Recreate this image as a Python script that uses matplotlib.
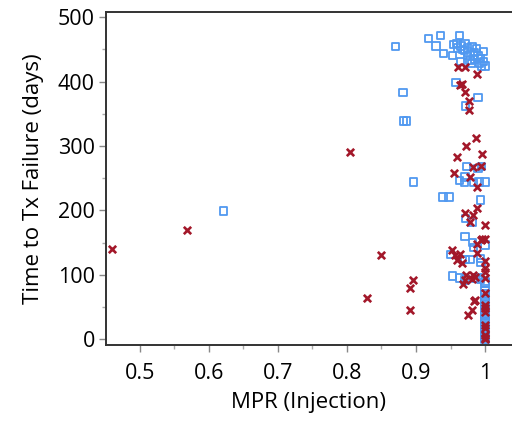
import numpy as np
import matplotlib.pyplot as plt
from matplotlib.ticker import MultipleLocator

plt.rcParams['font.family'] = ['Open Sans', 'DejaVu Sans']

# blue squares
sq_x = [0.621, 0.870, 0.881, 0.882, 0.886, 0.896,
        0.918, 0.935, 0.963, 0.929, 0.940, 0.953, 0.954, 0.959, 0.971, 0.981,
        0.988, 0.998, 0.975, 0.983, 0.993, 0.964, 0.978, 0.998, 1.0, 0.995,
        0.965, 0.968, 0.975, 0.985, 0.990, 0.985, 0.975, 0.970, 0.960, 0.992, 0.980,
        0.958, 0.990, 0.972,
        0.973, 0.990, 0.995, 0.971, 0.963, 0.970, 0.983, 0.991, 1.0,
        0.939, 0.948, 0.993, 0.972, 0.981, 0.971, 0.982, 0.983, 1.0,
        0.950, 0.971, 0.978, 0.993, 0.994, 0.953, 0.963, 0.971, 0.986, 0.990,
        0.993, 1.0, 1.0,
        1.0, 1.0, 1.0, 1.0, 1.0, 1.0, 1.0, 1.0, 1.0, 1.0,
        1.0, 1.0, 1.0, 1.0, 1.0, 1.0, 1.0, 1.0, 1.0]
sq_y = [199, 454, 383, 339, 339, 244,
        467, 472, 472, 455, 444, 440, 458, 459, 459, 454,
        451, 447, 446, 441, 436, 431, 433, 431, 424, 424,
        455, 450, 452, 445, 440, 435, 440, 448, 452, 428, 428,
        399, 375, 362,
        268, 265, 268, 252, 246, 243, 243, 244, 244,
        221, 221, 216, 187, 182, 159, 150, 142, 146,
        132, 124, 124, 125, 119, 98, 95, 92, 94, 95,
        93, 90, 87,
        0, 3, 6, 9, 12, 15, 20, 25, 28, 32,
        35, 40, 45, 50, 55, 60, 65, 70, 75]

# red crosses
x_x = [0.459, 0.569, 0.804, 0.850, 0.829, 0.896, 0.891, 0.891,
       0.961, 0.971, 0.988, 0.966, 0.964, 0.971, 0.977, 0.977,
       0.987, 0.973, 0.995, 0.960, 0.982, 0.994, 0.955, 0.978, 0.988,
       0.988, 0.971, 0.982, 0.978, 1.0, 0.995, 1.0, 0.994, 0.989,
       0.952, 0.957, 0.964, 0.959, 0.966, 0.988, 1.0, 1.0, 1.0,
       0.973, 0.983, 0.986, 0.971, 0.968, 0.981, 1.0, 1.0,
       0.985, 0.984, 0.981, 0.976,
       1.0, 1.0, 1.0, 1.0, 1.0, 1.0, 1.0, 1.0]
x_y = [140, 170, 290, 131, 64, 92, 79, 45,
       423, 423, 412, 396, 394, 384, 370, 356,
       312, 300, 288, 283, 267, 269, 258, 252, 236,
       203, 196, 193, 182, 177, 156, 156, 154, 148,
       139, 130, 132, 123, 118, 134, 122, 110, 105,
       99, 99, 97, 92, 86, 94, 95, 71,
       61, 59, 45, 37,
       53, 48, 42, 22, 17, 6, 2, 0]

fig = plt.figure(figsize=(5.12, 4.21), dpi=100)
ax = fig.add_axes([0.207, 0.1805, 0.793, 0.791])

ax.scatter(sq_x, sq_y, marker='s', s=28, facecolors='none',
           edgecolors='#5199f0', linewidths=1.3, zorder=2)
ax.scatter(x_x, x_y, marker='x', s=28, color='#a3182a',
           linewidths=1.9, zorder=3)

ax.set_xlim(0.451, 1.039)
ax.set_ylim(-9, 508)
ax.xaxis.set_major_locator(MultipleLocator(0.1))
ax.xaxis.set_minor_locator(MultipleLocator(0.05))
ax.yaxis.set_major_locator(MultipleLocator(100))
ax.yaxis.set_minor_locator(MultipleLocator(50))
ax.set_xticks([0.5, 0.6, 0.7, 0.8, 0.9, 1.0])
ax.set_xticklabels(['0.5', '0.6', '0.7', '0.8', '0.9', '1'])

for s in ['left', 'bottom', 'top']:
    ax.spines[s].set_color('#333333')
    ax.spines[s].set_linewidth(1.4)
ax.spines['right'].set_visible(False)

ax.tick_params(which='major', length=5, width=1, color='#888888',
               labelsize=15.5)
ax.tick_params(axis='x', which='major', pad=8)
ax.tick_params(axis='y', which='major', pad=3)
ax.tick_params(which='minor', length=3, width=1, color='#aaaaaa')

ax.set_xlabel('MPR (Injection)', fontsize=16, labelpad=6)
ax.set_ylabel('Time to Tx Failure (days)', fontsize=16, labelpad=10)

fig.savefig('out.png', dpi=100)
